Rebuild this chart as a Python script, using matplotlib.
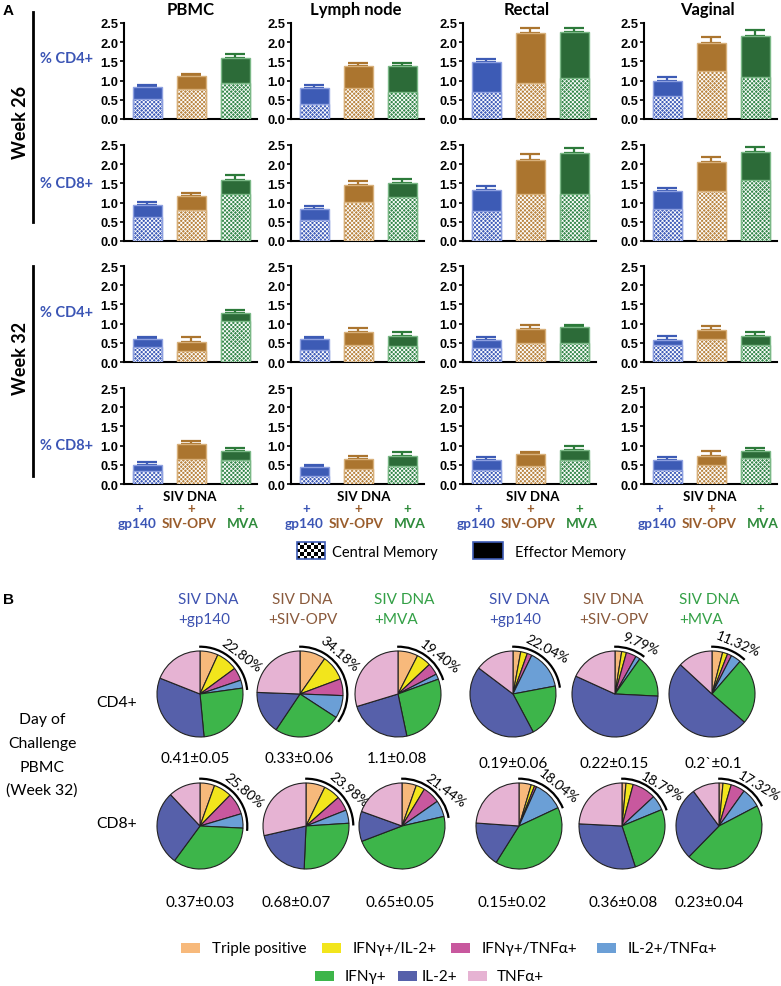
import numpy as np
import matplotlib
matplotlib.use('Agg')
import matplotlib.pyplot as plt
from matplotlib.patches import Arc, Rectangle

plt.rcParams['font.family'] = ['Lato', 'DejaVu Sans']
plt.rcParams['hatch.linewidth'] = 0.55

# ------------------------- DATA: panel A -------------------------
regions = ['PBMC', 'Lymph node', 'Rectal', 'Vaginal']
vaccines = ['gp140', 'SIV-OPV', 'MVA']
row_labels = ['% CD4+', '% CD8+', '% CD4+', '% CD8+']
weeks = ['Week 26', 'Week 32']
yticks = [0.0, 0.5, 1.0, 1.5, 2.0, 2.5]

# per region: [gp140, SIV-OPV, MVA]
w26_cd4_total = [[0.83, 1.12, 1.59], [0.81, 1.39, 1.39], [1.49, 2.25, 2.26], [1.00, 1.99, 2.15]]
w26_cd4_central = [[0.51, 0.79, 0.95], [0.39, 0.82, 0.70], [0.71, 0.93, 1.08], [0.59, 1.25, 1.10]]
w26_cd4_err = [[0.05, 0.05, 0.09], [0.08, 0.06, 0.07], [0.07, 0.12, 0.11], [0.09, 0.14, 0.16]]

w26_cd8_total = [[0.95, 1.17, 1.59], [0.83, 1.45, 1.52], [1.33, 2.10, 2.29], [1.31, 2.05, 2.32]]
w26_cd8_central = [[0.63, 0.80, 1.22], [0.55, 1.02, 1.15], [0.78, 1.22, 1.22], [0.83, 1.29, 1.58]]
w26_cd8_err = [[0.06, 0.09, 0.12], [0.07, 0.12, 0.09], [0.09, 0.16, 0.12], [0.08, 0.14, 0.13]]

w32_cd4_total = [[0.59, 0.53, 1.28], [0.59, 0.79, 0.69], [0.58, 0.86, 0.90], [0.58, 0.84, 0.67]]
w32_cd4_central = [[0.39, 0.28, 1.08], [0.30, 0.43, 0.41], [0.37, 0.50, 0.50], [0.43, 0.60, 0.43]]
w32_cd4_err = [[0.07, 0.13, 0.08], [0.06, 0.10, 0.10], [0.08, 0.11, 0.07], [0.11, 0.09, 0.11]]

w32_cd8_total = [[0.50, 1.03, 0.87], [0.43, 0.65, 0.74], [0.63, 0.77, 0.89], [0.63, 0.74, 0.87]]
w32_cd8_central = [[0.35, 0.64, 0.63], [0.20, 0.39, 0.46], [0.37, 0.46, 0.63], [0.36, 0.50, 0.67]]
w32_cd8_err = [[0.07, 0.09, 0.08], [0.07, 0.09, 0.09], [0.08, 0.07, 0.11], [0.08, 0.12, 0.08]]

# ------------------------- DATA: panel B -------------------------
cytokines = ['Triple positive', 'IFNγ+/IL-2+', 'IFNγ+/TNFα+', 'IL-2+/TNFα+',
             'IFNγ+', 'IL-2+', 'TNFα+']
pie_groups = ['+gp140', '+SIV-OPV', '+MVA', '+gp140', '+SIV-OPV', '+MVA']
cd4_pies = [
    [6.8, 8.1, 4.9, 3.0, 25.7, 32.5, 19.0],
    [9.7, 9.6, 6.3, 8.58, 25.2, 16.2, 24.4],
    [7.5, 5.5, 4.4, 2.0, 27.3, 23.6, 29.7],
    [2.9, 2.5, 1.8, 14.84, 20.2, 43.1, 14.7],
    [2.5, 1.8, 3.8, 1.69, 16.0, 56.0, 18.2],
    [4.0, 1.9, 1.6, 3.82, 25.1, 50.5, 13.1],
]
cd4_poly = ['22.80%', '34.18%', '19.40%', '22.04%', '9.79%', '11.32%']
cd4_freq = ['0.41±0.05', '0.33±0.06', '1.1±0.08', '0.19±0.06', '0.22±0.15', '0.2`±0.1']
cd8_pies = [
    [5.5, 6.8, 8.1, 5.4, 34.3, 27.9, 12.0],
    [7.2, 6.3, 5.5, 4.98, 26.7, 20.7, 28.6],
    [5.4, 3.3, 6.6, 6.14, 47.8, 11.3, 19.5],
    [4.6, 1.3, 0.8, 11.34, 40.9, 17.2, 23.9],
    [1.5, 2.7, 8.9, 5.69, 26.2, 30.8, 24.2],
    [1.5, 3.1, 5.3, 7.42, 45.0, 27.6, 10.1],
]
cd8_poly = ['25.80%', '23.98%', '21.44%', '18.04%', '18.79%', '17.32%']
cd8_freq = ['0.37±0.03', '0.68±0.07', '0.65±0.05', '0.15±0.02', '0.36±0.08', '0.23±0.04']

# ------------------------- STYLE -------------------------
W, H = 781, 987
fig = plt.figure(figsize=(W / 100, H / 100), dpi=100)

BLUE_T = '#3b55b5'
BROWN_T = '#9a5d2c'
GREEN_T = '#2e8b3b'
grp_text = [BLUE_T, BROWN_T, GREEN_T]
grpB_text = ['#3d52b0', '#8a5a3c', '#33a046']
eff_colors = ['#3d5bb5', '#ab752f', '#2c6b38']
cm_colors = ['#3f5cb8', '#b98440', '#34874a']
edge_colors = ['#8ea0e0', '#d8b07a', '#7ab886']
err_colors = ['#3d5bb5', '#ab752f', '#2c7a3a']
pie_colors = ['#f7b97b', '#f2e51c', '#c8589e', '#6b9fd6', '#3db54a', '#5660aa', '#e6b3d3']


def px_axes(x0, y0, w, h):
    return fig.add_axes([x0 / W, 1 - (y0 + h) / H, w / W, h / H])


ov = fig.add_axes([0, 0, 1, 1])
ov.set_xlim(0, W)
ov.set_ylim(H, 0)
ov.axis('off')

# ------------------------- PANEL A -------------------------
data_rows = [(w26_cd4_total, w26_cd4_central, w26_cd4_err),
             (w26_cd8_total, w26_cd8_central, w26_cd8_err),
             (w32_cd4_total, w32_cd4_central, w32_cd4_err),
             (w32_cd8_total, w32_cd8_central, w32_cd8_err)]
col_left = [124, 291, 463, 644]
row_top = [24, 146, 267, 389]
AX_W, AX_H = 133, 96

for r, (tot, cen, err) in enumerate(data_rows):
    for c in range(4):
        ax = px_axes(col_left[c], row_top[r], AX_W, AX_H)
        x = np.arange(len(vaccines))
        t = np.array(tot[c])
        m = np.array(cen[c])
        e = np.array(err[c])
        for i in range(3):
            ax.errorbar(x[i], t[i], yerr=[[0], [e[i]]], fmt='none', ecolor=err_colors[i],
                        elinewidth=1.6, capsize=7, capthick=1.6, zorder=1.5)
        ax.bar(x, t, 0.66, color=eff_colors, edgecolor=edge_colors, linewidth=1, zorder=2)
        ax.bar(x, m, 0.66, color=cm_colors, edgecolor='white', hatch='x' * 8,
               linewidth=0, zorder=3)
        ax.bar(x, m, 0.66, fill=False, edgecolor=edge_colors, linewidth=1, zorder=4)
        ax.set_xlim(-0.53, 2.49)
        ax.set_ylim(0, 2.5)
        ax.spines['top'].set_visible(False)
        ax.spines['right'].set_visible(False)
        ax.spines['left'].set_linewidth(1.5)
        ax.spines['bottom'].set_linewidth(1.5)
        ax.set_facecolor('none')
        ax.set_yticks(yticks, labels=[f'{v:.1f}' for v in yticks],
                      fontfamily='Liberation Sans', fontweight='bold', fontsize=9.3)
        ax.tick_params(axis='y', length=3, width=1.2, pad=1)
        ax.tick_params(axis='x', bottom=False, labelbottom=False)

# column titles
for c, (name, xc) in enumerate(zip(regions, [191, 356, 527, 707])):
    ov.text(xc, 15, name, ha='center', va='baseline', fontsize=12, fontweight='bold')

ov.text(3, 15, 'A', ha='left', va='baseline', fontsize=11, fontweight='bold',
        family='Liberation Sans')

# row labels
for lbl, yb in zip(row_labels, [63, 188, 317, 450]):
    ov.text(40, yb, lbl, ha='left', va='baseline', fontsize=10.5, fontweight='bold',
            color=BLUE_T)

# week labels and lines
ov.plot([33, 33], [13, 223], color='black', lw=2)
ov.plot([33, 33], [267, 477], color='black', lw=2)
ov.text(21, 122, weeks[0], rotation=90, ha='center', va='center', fontsize=13,
        fontweight='bold')
ov.text(21, 358, weeks[1], rotation=90, ha='center', va='center', fontsize=13,
        fontweight='bold')

# x labels below last row
siv_dx = [66, 73, 70, 66]
plus_dx = [-8, 0, 5]
lab_dx = [-10, -2, 7]
for c in range(4):
    x0 = col_left[c]
    ov.text(x0 + siv_dx[c], 501, 'SIV DNA', ha='center', va='baseline', fontsize=9.5,
            fontweight='bold')
    for i in range(3):
        bc = x0 + 23.5 + 44 * i
        ov.text(bc + plus_dx[i], 509, '+', ha='center', va='center', fontsize=9.5,
                fontweight='bold', color=grp_text[i])
        ov.text(bc + lab_dx[i], 527.5, vaccines[i], ha='center', va='baseline', fontsize=9.8,
                fontweight='bold', color=grp_text[i])

# legend panel A
checker = np.indices((5, 8)).sum(axis=0) % 2
ov.imshow(checker, cmap='gray', extent=(297, 325, 560, 543), interpolation='nearest',
          aspect='auto', zorder=2)
ov.add_patch(Rectangle((297, 543), 28, 17, fill=False, edgecolor='#3d5bb5', lw=1.2, zorder=3))
ov.text(332, 557, 'Central Memory', ha='left', va='baseline', fontsize=10.5)
ov.add_patch(Rectangle((473, 543), 30, 17, facecolor='black', edgecolor='#3d5bb5', lw=1.2,
                       zorder=3))
ov.text(515, 557, 'Effector Memory', ha='left', va='baseline', fontsize=10.5)
ov.set_xlim(0, W)
ov.set_ylim(H, 0)

# ------------------------- PANEL B -------------------------
ov.text(3, 604, 'B', ha='left', va='baseline', fontsize=11, fontweight='bold',
        family='Liberation Sans')

head_x = [178, 268, 374, 489, 579, 679]
for k in range(6):
    col = grpB_text[k % 3]
    ov.text(head_x[k] + (4 if k % 3 == 1 else 0), 604, 'SIV DNA', ha='left', va='baseline',
            fontsize=11, color=col)
    ov.text(head_x[k], 624, pie_groups[k], ha='left', va='baseline', fontsize=11, color=col)

ov.text(117, 707, 'CD4+', ha='center', va='baseline', fontsize=11.3)
ov.text(117, 828, 'CD8+', ha='center', va='baseline', fontsize=11.3)
for line, yb in zip(['Day of', 'Challenge', 'PBMC', '(Week 32)'], [724, 748, 772, 795]):
    ov.text(42, yb, line, ha='center', va='baseline', fontsize=11.3)

R_PIE = 43
HALF = 75
rows_B = [
    dict(pies=cd4_pies, poly=cd4_poly, freq=cd4_freq, cy=695,
         cx=[200, 300, 398, 513, 615, 712],
         th=[47, 44, 48, 36, 27, 27], rot=[-37, -41, -38, -28, -24, -23],
         fx=[195, 299, 397, 513, 614, 713], fy=[763, 763, 763, 768, 768, 768]),
    dict(pies=cd8_pies, poly=cd8_poly, freq=cd8_freq, cy=827,
         cx=[200, 306, 402, 519, 622, 719],
         th=[50, 49, 50, 44, 45, 44], rot=[-40, -40, -37, -39, -30, -31],
         fx=[200, 296, 400, 512, 623, 709], fy=[907] * 6),
]
for rb in rows_B:
    for k in range(6):
        vals = rb['pies'][k]
        cx, cy = rb['cx'][k], rb['cy']
        ax = px_axes(cx - HALF, cy - HALF, 2 * HALF, 2 * HALF)
        ax.pie(vals, colors=pie_colors, startangle=90, counterclock=False, radius=1,
               wedgeprops=dict(edgecolor='#222222', linewidth=0.8))
        lim = HALF / R_PIE
        ax.set_xlim(-lim, lim)
        ax.set_ylim(-lim, lim)
        ax.set_frame_on(False)
        poly_deg = sum(vals[:4]) / sum(vals) * 360
        ax.add_patch(Arc((0, 0), 2.2, 2.2, theta1=90 - poly_deg - 3, theta2=91,
                         lw=1.6, color='black'))
        th = np.radians(rb['th'][k])
        rr = 1.32
        ax.text(rr * np.sin(th), rr * np.cos(th), rb['poly'][k], rotation=rb['rot'][k],
                ha='center', va='center', fontsize=10, rotation_mode='anchor')
        ov.text(rb['fx'][k], rb['fy'][k], rb['freq'][k], ha='center', va='baseline',
                fontsize=11)

# legend panel B
leg_items = [(0, 181, 212, 949), (1, 322, 353, 949), (2, 451, 482, 949), (3, 597, 628, 949),
             (4, 315, 345, 977), (5, 398, 422, 977), (6, 468, 497, 977)]
for idx, sx, tx, yc in leg_items:
    ov.add_patch(Rectangle((sx, yc - 5), 19, 10, facecolor=pie_colors[idx],
                           edgecolor='none'))
    ov.text(tx, yc, cytokines[idx], ha='left', va='center', fontsize=11)

fig.savefig('out.png', dpi=100)
